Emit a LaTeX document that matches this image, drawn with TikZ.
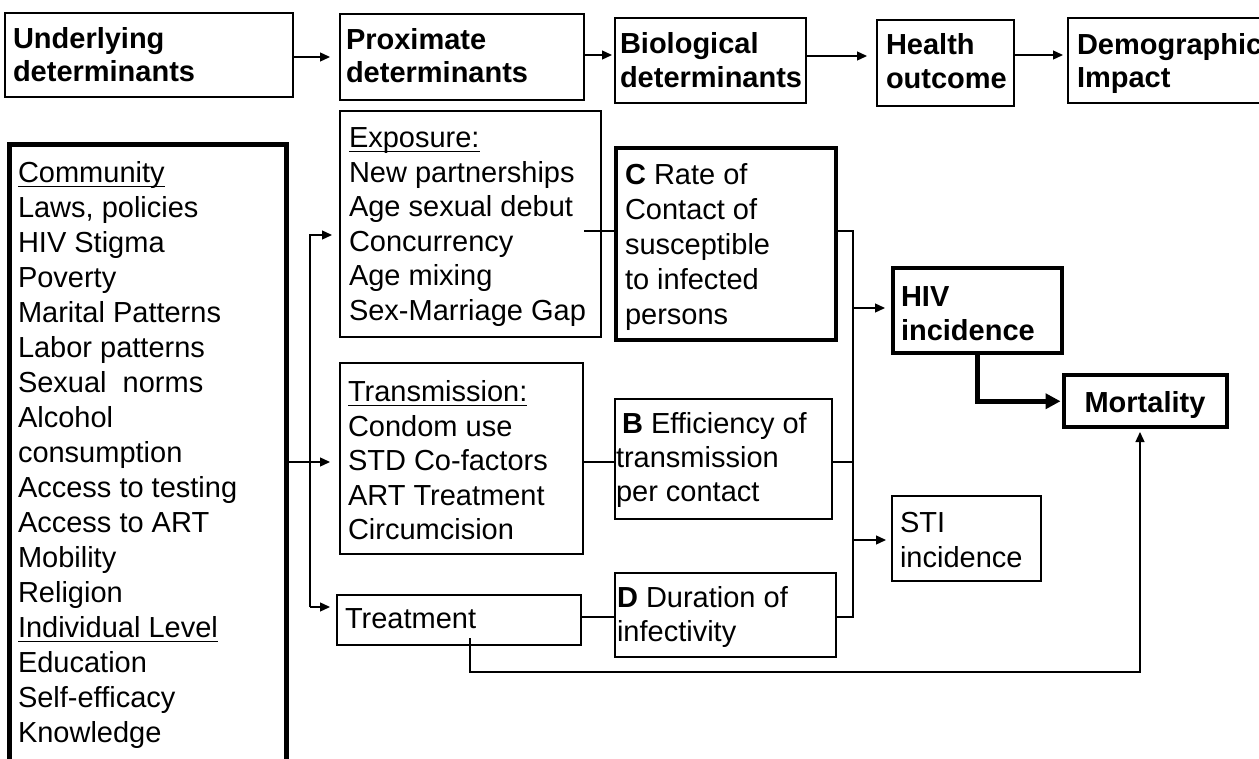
\documentclass[tikz,border=0pt]{standalone}
\usepackage{fontspec}
\setmainfont{Liberation Sans}
\usetikzlibrary{fit,arrows.meta}
\newcommand\mylines[2]{\parbox[t]{500pt}{\fontsize{29}{#1}\selectfont\raggedright #2}}
\newsavebox\myulbox
\newcommand\myul[1]{\leavevmode\sbox\myulbox{#1}\rlap{\rule[-4.5pt]{\wd\myulbox}{1.5pt}}\usebox\myulbox}
\begin{document}
\begin{tikzpicture}[x=1pt,y=-1pt,
  box/.style={draw, line width=1.3pt, inner sep=0pt, outer sep=0pt},
  thickbox/.style={draw, line width=4pt, inner sep=0pt, outer sep=0pt},
  txt/.style={anchor=base west, inner sep=0pt, outer sep=0pt},
  conn/.style={line width=1.3pt},
  arr/.style={line width=1.3pt, -{Triangle[length=10pt,width=9pt]}},
  thickarr/.style={line width=4.5pt, -{Triangle[length=15pt,width=15pt]}}]
\useasboundingbox (0,0) rectangle (1259,759);
% boxes
\node[box, fit={(5,13) (293,97)}] (under) {};
\node[box, fit={(340,14) (584,100)}] (prox) {};
\node[box, fit={(615,18) (806,103)}] (bio) {};
\node[box, fit={(877,20) (1014,106)}] (health) {};
\node[box, fit={(1068,18) (1300,103)}] (demo) {};
\node[thickbox, line width=5pt, fit={(9.5,144.5) (286,800)}] (comm) {};
\node[box, fit={(340,111) (601,337)}] (expo) {};
\node[thickbox, fit={(616,148.5) (835.5,340)}] (cbox) {};
\node[box, fit={(340,363) (583,554)}] (trans) {};
\node[box, fit={(615,399) (832,519)}] (bbox) {};
\node[box, fit={(337,595) (581,645)}] (treat) {};
\node[box, fit={(615,573) (836,657)}] (dbox) {};
\node[box, fit={(892,496) (1041,581)}] (sti) {};
\node[thickbox, fit={(893,268) (1062,353)}] (hiv) {};
\node[thickbox, fit={(1063.5,375.5) (1227,427)}] (mort) {};
% texts
\node[txt] (tunder) at (13,49) {\mylines{33}{\bfseries Underlying\\determinants}};
\node[txt] (tprox) at (346,50) {\mylines{33}{\bfseries Proximate\\determinants}};
\node[txt] (tbio) at (620,54) {\mylines{34}{\bfseries Biological\\determinants}};
\node[txt] (thealth) at (886,55) {\mylines{34}{\bfseries Health\\outcome}};
\node[txt] (tdemo) at (1077,55) {\mylines{33}{\bfseries Demographic\\Impact}};
\node[txt] (tcomm) at (18,183) {\mylines{35}{\myul{Community}\\Laws, policies\\HIV Stigma\\Poverty\\Marital Patterns\\Labor patterns\\Sexual\ \ norms\\Alcohol\\consumption\\Access to testing\\Access to ART\\Mobility\\Religion\\\myul{Individual Level}\\Education\\Self-efficacy\\Knowledge}};
\node[txt] (texpo) at (349,148) {\mylines{34.5}{\myul{Exposure:}\\New partnerships\\Age sexual debut\\Concurrency\\Age mixing\\Sex-Marriage Gap}};
\node[txt] (tc) at (625,185) {\mylines{35}{\textbf{C} Rate of\\Contact of\\susceptible\\to infected\\persons}};
\node[txt] (ttrans) at (348,402) {\mylines{34.5}{\myul{Transmission:}\\Condom use\\STD Co-factors\\ART Treatment\\Circumcision}};
\node[txt] (tb) at (616,433) {\mylines{34}{\hspace*{6pt}\textbf{B} Efficiency of\\transmission\\per contact}};
\node[txt] (ttreat) at (345,628) {\mylines{34}{Treatment}};
\node[txt] (td) at (617,607) {\mylines{34}{\textbf{D} Duration of\\infectivity}};
\node[txt] (tsti) at (900,532) {\mylines{35}{STI\\incidence}};
\node[txt] (thiv) at (901,307) {\mylines{34}{\bfseries HIV\\incidence}};
\node[anchor=base, inner sep=0pt, font=\fontsize{29}{34}\selectfont\bfseries] (tmort) at (1145,412) {Mortality};
% helper coordinates
\coordinate (r1) at (0,57);
\coordinate (r2) at (0,55);
\coordinate (r3) at (0,56);
\coordinate (r4) at (0,55);
\coordinate (lb1) at (310,235);
\coordinate (lb2) at (310,607);
\coordinate (lc) at (0,462);
\coordinate (ec) at (584,231);
\coordinate (rb1) at (853,231);
\coordinate (rb2) at (853,617);
\coordinate (hy) at (0,308);
\coordinate (sy) at (0,540);
\coordinate (t1) at (470,638);
\coordinate (t2) at (1140,672);
% top row arrows
\draw[arr, shorten >=10pt] (under.east |- r1) -- (prox.west |- r1);
\draw[arr, shorten >=3pt] (prox.east |- r2) -- (bio.west |- r2);
\draw[arr, shorten >=10pt] (bio.east |- r3) -- (health.west |- r3);
\draw[arr, shorten >=5pt] (health.east |- r4) -- (demo.west |- r4);
% left bus
\draw[arr, shorten >=8pt] (lb2) -- (lb1) -- (expo.west |- lb1);
\draw[arr, shorten >=7pt] (lb2) -- (treat.west |- lb2);
\draw[arr, shorten >=10pt] (comm.east |- lc) -- (trans.west |- lc);
% proximate to biological
\draw[conn] (ec) -- (cbox.west |- ec);
\draw[conn] (trans.east |- lc) -- (bbox.west |- lc);
\draw[conn] (treat.east |- rb2) -- (dbox.west |- rb2);
% right bus
\draw[conn] (cbox.east |- rb1) -- (rb1) -- (rb2) -- (dbox.east |- rb2);
\draw[conn] (bbox.east |- lc) -- (rb1 |- lc);
\draw[arr, shorten >=8pt] (rb1 |- hy) -- (hiv.west |- hy);
\draw[arr, shorten >=6pt] (rb1 |- sy) -- (sti.west |- sy);
% outcomes
\draw[thickarr, shorten >=3pt] (hiv.south) |- (mort.west);
\draw[arr, shorten >=5pt] (t1) |- (t2) -- (t2 |- mort.south);
\end{tikzpicture}
\end{document}
